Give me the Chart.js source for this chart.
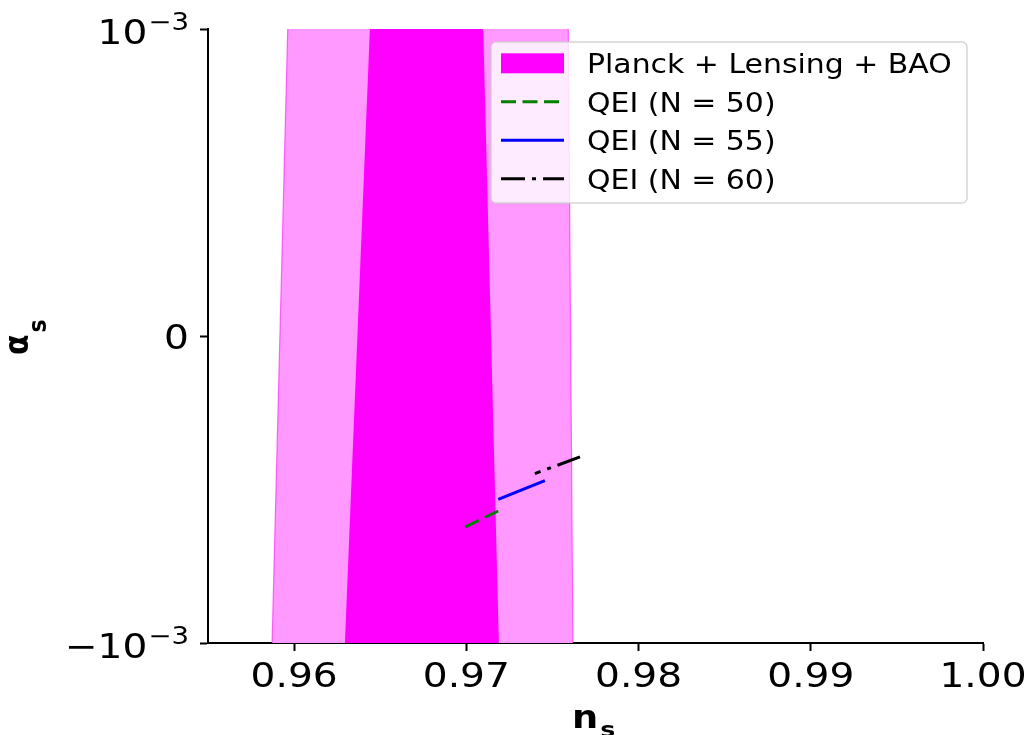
<!DOCTYPE html>
<html>
<head>
<meta charset="utf-8">
<script src="https://cdn.jsdelivr.net/npm/chart.js@4.4.1/dist/chart.umd.min.js"></script>
<style>
html, body { margin: 0; padding: 0; background: #fff; }
#wrap { width: 1032px; height: 735px; }
</style>
</head>
<body>
<div id="wrap"><canvas id="grafico" width="1032" height="735"></canvas></div>
<script>
// Planck + Lensing + BAO regions, outline walked bottom-left -> top-left -> top-right -> bottom-right
const OUTER_NS = [0.95872, 0.95963, 0.97592, 0.97619];
const OUTER_ALPHA = [-1e-3, 1e-3, 1e-3, -1e-3];
const INNER_NS = [0.96295, 0.96440, 0.97098, 0.97189];
const INNER_ALPHA = [-1e-3, 1e-3, 1e-3, -1e-3];

// QEI predictions, listed from the larger n_s end
const QEI50_NS = [0.97185, 0.96963];
const QEI50_ALPHA = [-5.70e-4, -6.30e-4];
const QEI55_NS = [0.97456, 0.97185];
const QEI55_ALPHA = [-4.71e-4, -5.32e-4];
const QEI60_NS = [0.97660, 0.97398];
const QEI60_ALPHA = [-3.94e-4, -4.48e-4];

const X_TICKS = [0.96, 0.97, 0.98, 0.99, 1.00];
const X_TICK_LABELS = ["0.96", "0.97", "0.98", "0.99", "1.00"];
const Y_TICKS = [-1e-3, 0, 1e-3];
const Y_TICK_LABELS = [["\u221210", "\u22123"], ["0", ""], ["10", "\u22123"]];

const SX = 1.15;          // glyphs come out slightly wide
const FAM = "'DejaVu Sans', sans-serif";

function puntos(xs, ys) {
    return xs.map((x, i) => ({ x: x, y: ys[i] }));
}

function texto(ctx, str, x, y, font, align) {
    ctx.save();
    ctx.translate(x, y);
    ctx.scale(SX, 1);
    ctx.font = font;
    ctx.textAlign = align || "left";
    ctx.textBaseline = "alphabetic";
    ctx.fillStyle = "#000";
    ctx.fillText(str, 0, 0);
    ctx.restore();
}

function ancho(ctx, str, font) {
    ctx.save();
    ctx.font = font;
    const w = ctx.measureText(str).width * SX;
    ctx.restore();
    return w;
}

function dibujarEjes(chart) {
    const ctx = chart.ctx;
    const xs = chart.scales.x;
    const ys = chart.scales.y;
    const fTick = "34px " + FAM;
    const fSup = "24px " + FAM;

    X_TICKS.forEach((v, i) => {
        texto(ctx, X_TICK_LABELS[i], xs.getPixelForValue(v), 687, fTick, "center");
    });

    Y_TICKS.forEach((v, i) => {
        const [base, sup] = Y_TICK_LABELS[i];
        const py = ys.getPixelForValue(v);
        const right = 189;
        if (sup) {
            const wSup = ancho(ctx, sup, fSup);
            texto(ctx, sup, right, py + 1, fSup, "right");
            texto(ctx, base, right - wSup - 1, py + 15, fTick, "right");
        } else {
            texto(ctx, base, right, py + 12.5, fTick, "right");
        }
    });

    // x title: n_s
    const fN = "bold 32px " + FAM;
    const fSub = "bold 22px " + FAM;
    const wn = ancho(ctx, "n", fN);
    const x0 = 572;
    texto(ctx, "n", x0, 728, fN);
    texto(ctx, "s", x0 + wn + 2, 737, fSub);

    // y title: alpha_s, rotated
    const fA = "bold 30px " + FAM;
    const fAs = "bold 22px " + FAM;
    ctx.save();
    ctx.font = fA;
    const wa = ctx.measureText("\u03b1").width;
    ctx.restore();
    [["\u03b1", 28, 355, fA], ["s", 46, 355 - wa - 2, fAs]].forEach(([s, bx, by, f]) => {
        ctx.save();
        ctx.translate(bx, by);
        ctx.scale(SX, 1);
        ctx.rotate(-Math.PI / 2);
        ctx.font = f;
        ctx.fillStyle = "#000";
        ctx.textAlign = "left";
        ctx.textBaseline = "alphabetic";
        ctx.fillText(s, 0, 0);
        ctx.restore();
    });
}

function dibujarLeyenda(chart) {
    const ctx = chart.ctx;
    const items = chart.data.datasets.filter(d => d.enLeyenda);
    const bx = 491, by = 42, bw = 476, bh = 161, r = 5;

    ctx.save();
    ctx.beginPath();
    ctx.roundRect(bx, by, bw, bh, r);
    ctx.fillStyle = "rgba(255,255,255,0.8)";
    ctx.fill();
    ctx.lineWidth = 1.5;
    ctx.strokeStyle = "rgba(204,204,204,0.8)";
    ctx.stroke();
    ctx.restore();

    const fLey = "26px " + FAM;
    items.forEach((d, i) => {
        const base = 73.3 + i * 38.5;
        const cy = base - 10;
        ctx.save();
        if (d.fill) {
            ctx.fillStyle = d.backgroundColor;
            ctx.fillRect(501, cy - 10, 63, 20);
        } else {
            ctx.strokeStyle = d.borderColor;
            ctx.lineWidth = d.borderWidth;
            ctx.lineCap = "butt";
            ctx.setLineDash(d.borderDash || []);
            ctx.beginPath();
            ctx.moveTo(501, cy);
            ctx.lineTo(564, cy);
            ctx.stroke();
        }
        ctx.restore();
        texto(ctx, d.label, 587, base, fLey);
    });
}

const pluginTextos = {
    id: "textos",
    afterDraw(chart) {
        dibujarEjes(chart);
        dibujarLeyenda(chart);
    }
};

const ORILLA = "rgba(255,0,255,0.55)";

const datasets = [
    {
        label: "", data: puntos(OUTER_NS, OUTER_ALPHA),
        showLine: true, fill: "shape", backgroundColor: "#ff99ff",
        borderWidth: 0, pointRadius: 0, order: 10
    },
    {
        label: "", data: puntos(OUTER_NS.slice(0, 2), OUTER_ALPHA.slice(0, 2)),
        showLine: true, fill: false, borderColor: ORILLA, borderWidth: 1.2,
        pointRadius: 0, order: 9
    },
    {
        label: "", data: puntos(OUTER_NS.slice(2), OUTER_ALPHA.slice(2)),
        showLine: true, fill: false, borderColor: ORILLA, borderWidth: 1.2,
        pointRadius: 0, order: 9
    },
    {
        label: "Planck + Lensing + BAO", enLeyenda: true,
        data: puntos(INNER_NS, INNER_ALPHA),
        showLine: true, fill: "shape", backgroundColor: "#ff00ff",
        borderWidth: 0, pointRadius: 0, order: 8
    },
    {
        label: "QEI (N = 50)", enLeyenda: true,
        data: puntos(QEI50_NS, QEI50_ALPHA),
        showLine: true, fill: false, borderColor: "#008000", borderWidth: 3,
        borderDash: [15, 6.5], borderCapStyle: "butt", pointRadius: 0, order: 3
    },
    {
        label: "QEI (N = 55)", enLeyenda: true,
        data: puntos(QEI55_NS, QEI55_ALPHA),
        showLine: true, fill: false, borderColor: "#0000ff", borderWidth: 3,
        borderCapStyle: "butt", pointRadius: 0, order: 2
    },
    {
        label: "QEI (N = 60)", enLeyenda: true,
        data: puntos(QEI60_NS, QEI60_ALPHA),
        showLine: true, fill: false, borderColor: "#000000", borderWidth: 3,
        borderDash: [24, 7, 4, 7], borderCapStyle: "butt", pointRadius: 0, order: 1
    }
];

const ejeComun = {
    type: "linear",
    ticks: { display: false },
    grid: {
        drawOnChartArea: false, drawTicks: true,
        tickLength: 8, tickWidth: 2, tickColor: "#000", color: "#000"
    },
    border: { display: true, color: "#000", width: 2 }
};

new Chart(document.getElementById("grafico"), {
    type: "scatter",
    data: { datasets: datasets },
    options: {
        responsive: false,
        animation: false,
        events: [],
        layout: { padding: { top: 29, right: 49, left: 0, bottom: 0 } },
        plugins: { legend: { display: false }, tooltip: { enabled: false } },
        scales: {
            x: Object.assign({}, ejeComun, {
                min: 0.955, max: 1.0,
                afterBuildTicks: s => { s.ticks = X_TICKS.map(v => ({ value: v })); },
                afterFit: s => { s.height = 92; }
            }),
            y: Object.assign({}, ejeComun, {
                min: -1e-3, max: 1e-3,
                afterBuildTicks: s => { s.ticks = Y_TICKS.map(v => ({ value: v })); },
                afterFit: s => { s.width = 208; }
            })
        }
    },
    plugins: [pluginTextos]
});
</script>
</body>
</html>
